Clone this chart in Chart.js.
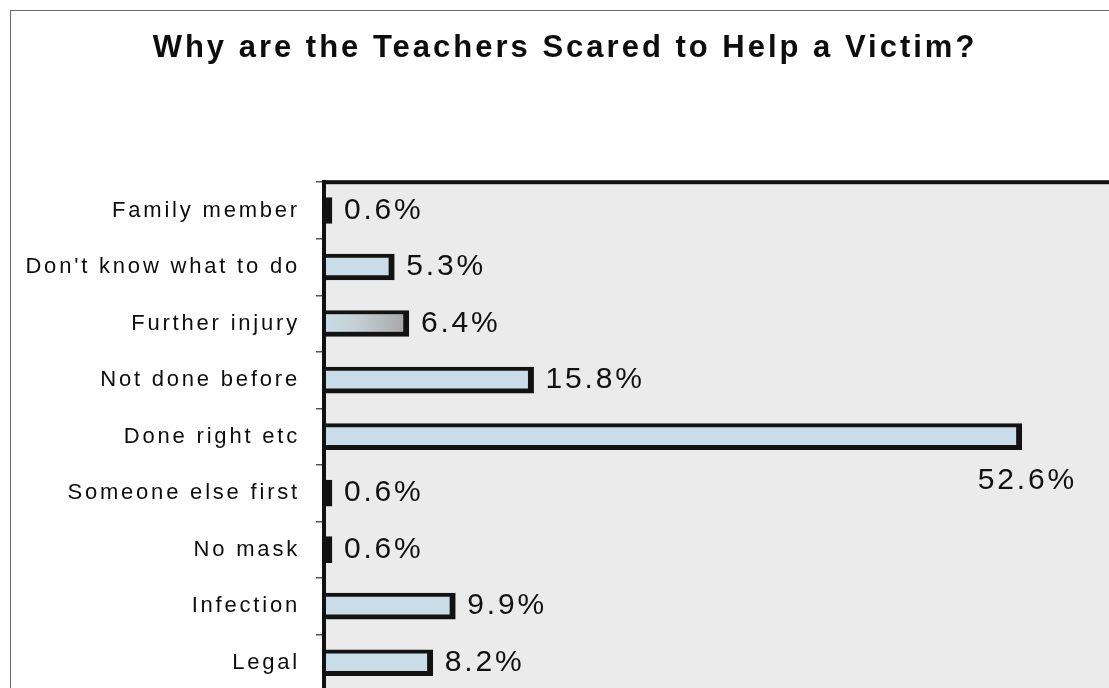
<!DOCTYPE html>
<html>
<head>
<meta charset="utf-8">
<script src="https://cdn.jsdelivr.net/npm/chart.js@4.4.1/dist/chart.umd.min.js"></script>
<style>
  html, body { margin: 0; padding: 0; background: #ffffff; }
  #frame { width: 1109px; height: 688px; overflow: hidden; position: relative; }
  #chart { position: absolute; left: 0; top: 0; }
</style>
</head>
<body>
<div id="frame"><canvas id="chart" width="1140" height="700"></canvas></div>
<script>
const chartTitle = 'Why are the Teachers Scared to Help a Victim?';
const categories = [
  'Family member',
  "Don't know what to do",
  'Further injury',
  'Not done before',
  'Done right etc',
  'Someone else first',
  'No mask',
  'Infection',
  'Legal'
];
const percents = [0.6, 5.3, 6.4, 15.8, 52.6, 0.6, 0.6, 9.9, 8.2];
const axisMin = 0;
const axisMax = 60;

const FONT = "'Liberation Sans', Arial, Helvetica, sans-serif";
const BAR_FILL = '#c9dde8';
const BAR_EDGE = '#121212';

// Wide tracking for every text run, keyed on the font size in use.
const trackingBySize = { '31': '3px', '22': '2.8px', '30': '2.8px' };
const canvas = document.getElementById('chart');
const ctx = canvas.getContext('2d');
const baseFillText = CanvasRenderingContext2D.prototype.fillText;
ctx.fillText = function (text, x, y, maxWidth) {
  const m = /(\d+(?:\.\d+)?)px/.exec(this.font);
  this.letterSpacing = (m && trackingBySize[m[1]]) || '0px';
  if (maxWidth === undefined) return baseFillText.call(this, text, x, y);
  return baseFillText.call(this, text, x, y, maxWidth);
};

// Bar fill: very short bars are all outline, and the "Further injury"
// bar has a grey-blue shaded fill.
function barFill(context) {
  const v = percents[context.dataIndex];
  if (v < 1) return BAR_EDGE;
  if (context.dataIndex !== 2) return BAR_FILL;
  const chart = context.chart;
  const xs = chart.scales && chart.scales.x;
  if (!xs || !chart.chartArea) return BAR_FILL;
  const x0 = xs.getPixelForValue(0);
  const x1 = xs.getPixelForValue(v);
  const g = chart.ctx.createLinearGradient(x0, 0, x1, 0);
  g.addColorStop(0, '#c6dbe5');
  g.addColorStop(0.35, '#c4d2d8');
  g.addColorStop(1, '#a4a4a4');
  return g;
}

const plotBackdrop = {
  id: 'plotBackdrop',
  beforeDraw(chart) {
    const { ctx, chartArea: a } = chart;
    ctx.save();
    // outer page frame
    ctx.strokeStyle = '#6a6a6a';
    ctx.lineWidth = 1;
    ctx.strokeRect(10.5, 10.5, 2000, 2000);
    // plot area
    ctx.fillStyle = '#ebebeb';
    ctx.fillRect(a.left, a.top, a.right - a.left, a.bottom - a.top);
    ctx.restore();
  },
  afterDraw(chart) {
    const { ctx, chartArea: a } = chart;
    ctx.save();
    ctx.strokeStyle = '#111111';
    ctx.lineWidth = 4;
    ctx.strokeRect(a.left, a.top, a.right - a.left, a.bottom - a.top);
    ctx.restore();
  }
};

const valueLabels = {
  id: 'valueLabels',
  afterDatasetsDraw(chart) {
    const { ctx } = chart;
    const meta = chart.getDatasetMeta(0);
    ctx.save();
    ctx.font = '30px ' + FONT;
    ctx.fillStyle = '#111111';
    ctx.textBaseline = 'middle';
    ctx.textAlign = 'left';
    meta.data.forEach((bar, i) => {
      const text = percents[i].toFixed(1) + '%';
      ctx.letterSpacing = trackingBySize['30'];
      const w = ctx.measureText(text).width;
      let x = bar.x + 12;
      let y = bar.y;
      if (x + w > chart.width - 40) {
        // no room beside the bar: tuck the label underneath its end
        x = bar.x - 44;
        y = bar.y + 44;
      }
      ctx.fillText(text, x, y);
    });
    ctx.restore();
  }
};

new Chart(canvas, {
  type: 'bar',
  data: {
    labels: categories,
    datasets: [{
      data: percents,
      backgroundColor: barFill,
      borderColor: BAR_EDGE,
      borderWidth: { top: 4, right: 6, bottom: 5, left: 2 },
      borderSkipped: false,
      barThickness: 26
    }]
  },
  options: {
    indexAxis: 'y',
    responsive: false,
    animation: false,
    layout: { padding: { top: 30, left: 10, right: 20, bottom: 9 } },
    plugins: {
      legend: { display: false },
      tooltip: { enabled: false },
      title: {
        display: true,
        text: chartTitle,
        color: '#0d0d0d',
        font: { family: FONT, size: 31, weight: 'bold' },
        padding: { top: 0, bottom: 115 }
      }
    },
    scales: {
      x: { min: axisMin, max: axisMax, display: false },
      y: {
        grid: {
          display: true,
          drawOnChartArea: false,
          drawTicks: true,
          tickLength: 8,
          color: '#555555',
          lineWidth: 1.5,
          offset: true
        },
        border: { display: true, color: '#111111', width: 4 },
        ticks: {
          color: '#0d0d0d',
          font: { family: FONT, size: 22 },
          padding: 16
        },
        afterFit(scale) {
          scale.width = 314;
          scale.paddingTop = 0;
          scale.paddingBottom = 0;
        }
      }
    }
  },
  plugins: [plotBackdrop, valueLabels]
});
</script>
</body>
</html>
